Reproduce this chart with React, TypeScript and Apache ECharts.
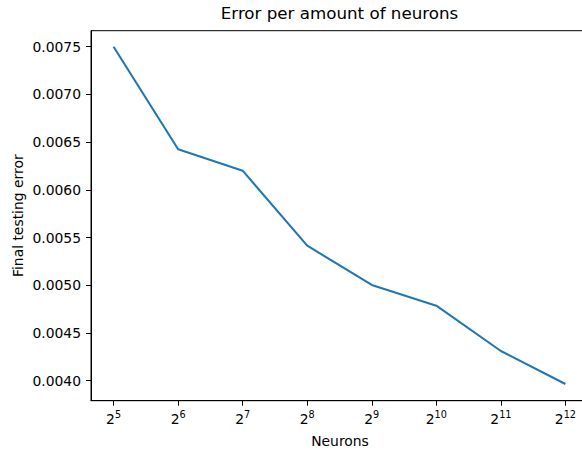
import React, { useEffect, useRef } from "react";
import * as echarts from "echarts";

const neuronExponents = [5, 6, 7, 8, 9, 10, 11, 12];
const testingError = [0.0075, 0.006425, 0.006201, 0.005415, 0.005003, 0.004786, 0.004311, 0.003965];
const yTicks = [0.004, 0.0045, 0.005, 0.0055, 0.006, 0.0065, 0.007, 0.0075];
const titleText = "Error per amount of neurons";
const xLabel = "Neurons";
const yLabel = "Final testing error";

const FONT = "DejaVu Sans";

export default function App() {
  const ref = useRef<HTMLDivElement>(null);
  useEffect(() => {
    if (!ref.current) return;
    const chart = echarts.init(ref.current, null, { renderer: "svg" });
    chart.setOption({
      animation: false,
      backgroundColor: "#ffffff",
      grid: {
        left: 91,
        top: 30.7,
        width: 497,
        height: 370,
        containLabel: false,
        outerBoundsMode: "none",
        show: true,
        borderColor: "#000000",
        borderWidth: 1,
        backgroundColor: "transparent",
      },
      xAxis: {
        type: "value",
        min: 4.65,
        max: 12.35,
        axisLine: { show: true, onZero: false, lineStyle: { color: "#000", width: 1 } },
        axisTick: { show: true, inside: false, length: 5, customValues: neuronExponents, lineStyle: { color: "#000", width: 1 } },
        splitLine: { show: false },
        axisLabel: {
          show: true,
          margin: 9,
          customValues: neuronExponents,
          formatter: (v: number) => `{b|2}{s|${v}}`,
          rich: {
            b: { fontFamily: FONT, fontSize: 13.9, color: "#000", verticalAlign: "bottom" },
            s: { fontFamily: FONT, fontSize: 9.7, color: "#000", verticalAlign: "bottom", padding: [0, 0, 6, 0] },
          },
        },
      },
      yAxis: {
        type: "value",
        min: 0.00379,
        max: 0.007668,
        axisLine: { show: true, onZero: false, lineStyle: { color: "#000", width: 1 } },
        axisTick: { show: true, inside: false, length: 5, customValues: yTicks, lineStyle: { color: "#000", width: 1 } },
        splitLine: { show: false },
        axisLabel: {
          show: true,
          margin: 10,
          customValues: yTicks,
          formatter: (v: number) => v.toFixed(4),
          fontFamily: FONT,
          fontSize: 13.9,
          color: "#000",
        },
      },
      graphic: [
        {
          type: "text",
          x: 339.5,
          y: 13,
          style: { text: titleText, fontFamily: FONT, fontSize: 16.7, fill: "#000", textAlign: "center", textVerticalAlign: "middle" },
        },
        {
          type: "text",
          x: 340,
          y: 441,
          style: { text: xLabel, fontFamily: FONT, fontSize: 13.9, fill: "#000", textAlign: "center", textVerticalAlign: "middle" },
        },
        {
          type: "text",
          x: 18,
          y: 215.7,
          rotation: Math.PI / 2,
          style: { text: yLabel, fontFamily: FONT, fontSize: 13.9, fill: "#000", textAlign: "center", textVerticalAlign: "middle" },
        },
      ],
      series: [
        {
          type: "line",
          data: neuronExponents.map((e, i) => [e, testingError[i]]),
          showSymbol: false,
          symbol: "none",
          lineStyle: { color: "#1f77b4", width: 2.08 },
          clip: false,
        },
      ],
    });
    return () => chart.dispose();
  }, []);
  return <div ref={ref} style={{ position: "fixed", left: 0, top: 0, width: 582, height: 450 }} />;
}
